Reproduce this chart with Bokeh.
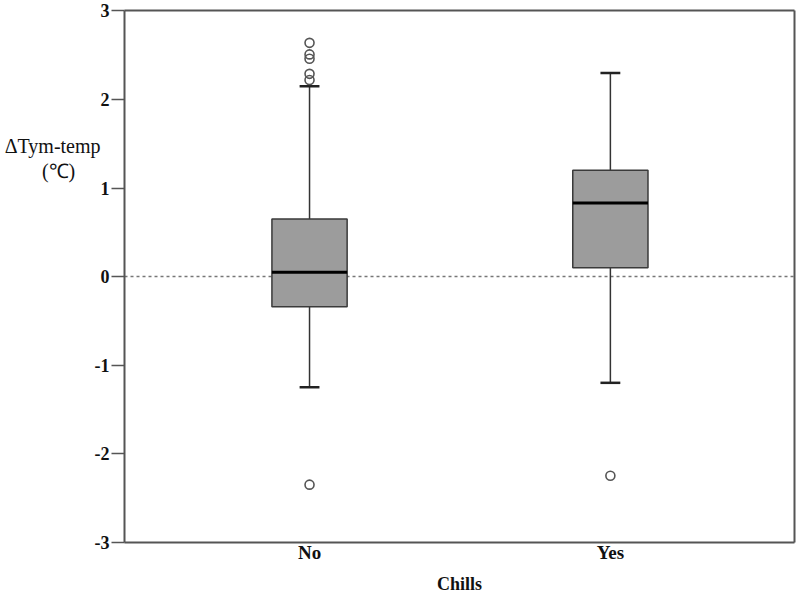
from bokeh.plotting import figure
from bokeh.models import FixedTicker, Range1d, LinearAxis, ColumnDataSource
from bokeh.core.properties import value
from bokeh.embed import file_html
from bokeh.resources import INLINE

# ---- data ----
categories = ["No", "Yes"]
q1 = [-0.34, 0.10]
median = [0.05, 0.83]
q3 = [0.65, 1.20]
whisker_low = [-1.25, -1.20]
whisker_high = [2.15, 2.30]
outlier_cat = ["No", "No", "No", "No", "No", "No", "Yes"]
outlier_val = [2.64, 2.51, 2.46, 2.29, 2.22, -2.35, -2.25]
y_ticks = [-3, -2, -1, 0, 1, 2, 3]
x_title = "Chills"
y_title = ["ΔTym-temp", "(℃)"]

pos = {c: i + 1 for i, c in enumerate(categories)}
xs = [pos[c] for c in categories]
box_w = 0.25
cap_w = 0.066

# boxed plot region; the canvas range is a bit larger so that the
# tick labels and titles outside the box are drawn too
x_lo, x_hi = 0.385, 2.612
y_lo, y_hi = -3, 3

FONT = "Liberation Serif"
AX = "#555555"

p = figure(width=798, height=594, output_backend="svg", toolbar_location=None,
           x_range=Range1d(-0.0272, 2.6253), y_range=Range1d(-3.591, 3.1186),
           min_border_left=0, min_border_right=0, min_border_top=0,
           min_border_bottom=0)
p.grid.visible = False
p.background_fill_color = "white"
p.border_fill_color = "white"
p.outline_line_color = None

# zero reference line (dotted), from the y axis to the right border
p.segment(x0=[x_lo], y0=[0], x1=[x_hi], y1=[0], line_color="#777777",
          line_width=1.5, line_dash="3 3")

src = ColumnDataSource(dict(x=xs, q1=q1, q3=q3, med=median, lo=whisker_low,
                            hi=whisker_high,
                            xl=[x - cap_w / 2 for x in xs],
                            xr=[x + cap_w / 2 for x in xs],
                            bl=[x - box_w / 2 for x in xs],
                            br=[x + box_w / 2 for x in xs]))

# whiskers
p.segment(x0="x", y0="q3", x1="x", y1="hi", source=src, line_color="#333333", line_width=1.5)
p.segment(x0="x", y0="q1", x1="x", y1="lo", source=src, line_color="#333333", line_width=1.5)
# caps
p.segment(x0="xl", y0="hi", x1="xr", y1="hi", source=src, line_color="#222222", line_width=2.5)
p.segment(x0="xl", y0="lo", x1="xr", y1="lo", source=src, line_color="#222222", line_width=2.5)
# boxes
p.vbar(x="x", width=box_w, top="q3", bottom="q1", source=src,
       fill_color="#9c9c9c", line_color="#3a3a3a", line_width=1.5)
# medians
p.segment(x0="bl", y0="med", x1="br", y1="med", source=src, line_color="#000000", line_width=3)

# outliers
p.scatter(x=[pos[c] for c in outlier_cat], y=outlier_val, size=9, marker="circle",
          fill_color=None, line_color="#555555", line_width=1.6)

# ---- x axis (bottom edge of the box) ----
p.xaxis.fixed_location = y_lo
p.xaxis.bounds = (x_lo, x_hi)
p.xaxis.ticker = FixedTicker(ticks=xs)
p.xaxis.major_label_overrides = {pos[c]: c for c in categories}
p.xaxis.major_tick_line_color = None
p.xaxis.major_tick_out = 0
p.xaxis.major_tick_in = 0
p.xaxis.minor_tick_line_color = None
p.xaxis.major_label_standoff = 0
p.xaxis.major_label_text_font = FONT
p.xaxis.major_label_text_font_style = "bold"
p.xaxis.major_label_text_font_size = "19px"

# ---- y axis (left edge of the box) ----
p.yaxis.fixed_location = x_lo
p.yaxis.bounds = (y_lo, y_hi)
p.yaxis.ticker = FixedTicker(ticks=y_ticks)
p.yaxis.major_label_overrides = {t: str(t) for t in y_ticks}
p.yaxis.minor_tick_line_color = None
p.yaxis.major_tick_out = 13
p.yaxis.major_tick_in = 0
p.yaxis.major_label_standoff = 2
p.yaxis.major_label_text_font = FONT
p.yaxis.major_label_text_font_style = "bold"
p.yaxis.major_label_text_font_size = "18px"

for ax in (p.xaxis, p.yaxis):
    ax.axis_line_color = AX
    ax.axis_line_width = 2
    ax.major_label_text_color = "#111111"
p.yaxis.major_tick_line_color = AX
p.yaxis.major_tick_line_width = 1.5

# ---- top and right border lines ----
def border_axis(loc, bounds):
    return LinearAxis(ticker=FixedTicker(ticks=[]), fixed_location=loc, bounds=bounds,
                      axis_line_color=AX, axis_line_width=2,
                      major_tick_line_color=None, minor_tick_line_color=None,
                      major_label_text_font_size="0px", major_tick_out=0,
                      major_tick_in=0, major_label_standoff=0)

p.add_layout(border_axis(y_hi, (x_lo, x_hi)), "above")
p.add_layout(border_axis(x_hi, (y_lo, y_hi)), "right")

# ---- titles ----
p.text(x=[(x_lo + x_hi) / 2], y=[-3.478], text=[x_title], text_align="center",
       text_baseline="middle", text_font=value(FONT), text_font_style="bold",
       text_font_size="18px", text_color="#111111")
p.text(x=[0.146, 0.166], y=[1.4695, 1.193], text=y_title, text_align="center",
       text_baseline="middle", text_font=value(FONT), text_font_size="20px",
       text_color="#111111")

open("out.html", "w").write(file_html(p, INLINE))
